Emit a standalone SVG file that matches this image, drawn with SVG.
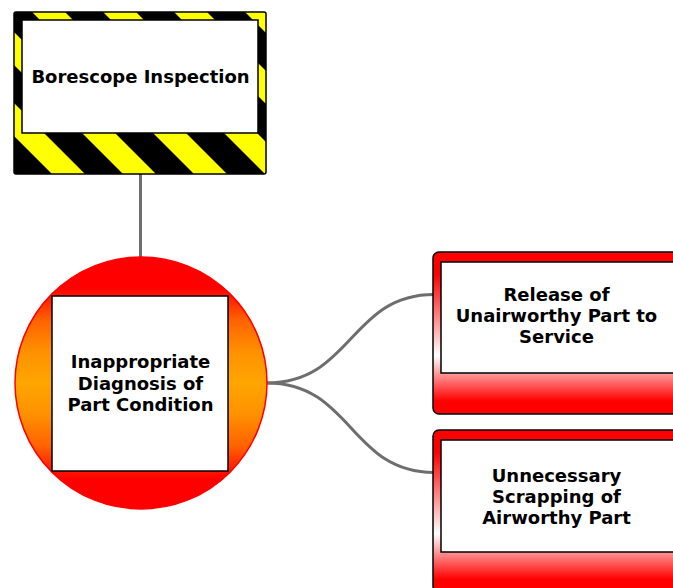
<svg xmlns="http://www.w3.org/2000/svg" width="673" height="588" viewBox="0 0 673 588">
  <style>
    .label { font-family: "DejaVu Sans", Verdana, sans-serif; font-weight: bold; font-size: 18px; fill: #000; text-anchor: middle; }
    .wire { fill: none; stroke: #6e6e6e; stroke-width: 3; }
    .panel { fill: #fff; stroke: #000; stroke-width: 1.5; }
    .frame { stroke: #000; stroke-width: 1.5; }
  </style>
  <defs>
    <!-- 45-degree hazard stripes, period 71px horizontally -->
    <pattern id="hazard" patternUnits="userSpaceOnUse" x="0" y="0" width="71" height="71">
      <rect width="71" height="71" fill="#000"/>
      <polygon points="20,0 53,0 71,18 71,51" fill="#ffff00"/>
      <polygon points="0,18 0,51 20,71 53,71" fill="#ffff00"/>
    </pattern>
    <linearGradient id="fireFill" x1="0" y1="0" x2="0" y2="1">
      <stop offset="0" stop-color="#ff0000"/>
      <stop offset="0.12" stop-color="#ff0000"/>
      <stop offset="0.25" stop-color="#ff6200"/>
      <stop offset="0.38" stop-color="#ff9200"/>
      <stop offset="0.5" stop-color="#ffa500"/>
      <stop offset="0.62" stop-color="#ff9200"/>
      <stop offset="0.75" stop-color="#ff6200"/>
      <stop offset="0.88" stop-color="#ff0000"/>
      <stop offset="1" stop-color="#ff0000"/>
    </linearGradient>
    <linearGradient id="redFade" x1="0" y1="0" x2="0" y2="1">
      <stop offset="0" stop-color="#ff0000"/>
      <stop offset="0.14" stop-color="#ff0000"/>
      <stop offset="0.64" stop-color="#ffffff"/>
      <stop offset="0.92" stop-color="#ff0000"/>
      <stop offset="1" stop-color="#ff0000"/>
    </linearGradient>
  </defs>

  <g id="connectors">
    <line class="wire" x1="140.5" y1="174" x2="140.5" y2="258"/>
    <path class="wire" d="M267,383 C352,383 350,294.5 434,294.5"/>
    <path class="wire" d="M267,383 C352,383 350,472.5 434,472.5"/>
  </g>

  <g id="borescope-inspection">
    <rect class="frame" x="14" y="12" width="252" height="162" rx="2" fill="url(#hazard)"/>
    <rect class="panel" x="22" y="20" width="236" height="113"/>
    <text class="label" x="140.5" y="83">Borescope Inspection</text>
  </g>

  <g id="inappropriate-diagnosis">
    <circle cx="141" cy="383" r="126" fill="url(#fireFill)" stroke="#ff0000" stroke-width="1.5"/>
    <rect class="panel" x="52" y="296" width="176" height="175"/>
    <text class="label" x="140.5" y="368">Inappropriate</text>
    <text class="label" x="140.5" y="389.5">Diagnosis of</text>
    <text class="label" x="140.5" y="411">Part Condition</text>
  </g>

  <g id="release-unairworthy">
    <rect class="frame" x="433" y="252" width="260" height="162" rx="6" fill="url(#redFade)"/>
    <rect class="panel" x="441" y="262" width="250" height="111"/>
    <text class="label" x="556.5" y="301">Release of</text>
    <text class="label" x="556.5" y="322">Unairworthy Part to</text>
    <text class="label" x="556.5" y="343">Service</text>
  </g>

  <g id="unnecessary-scrapping">
    <rect class="frame" x="433" y="430" width="260" height="162" rx="6" fill="url(#redFade)"/>
    <rect class="panel" x="441" y="440" width="250" height="112"/>
    <text class="label" x="556.5" y="482">Unnecessary</text>
    <text class="label" x="556.5" y="503">Scrapping of</text>
    <text class="label" x="556.5" y="524">Airworthy Part</text>
  </g>
</svg>
